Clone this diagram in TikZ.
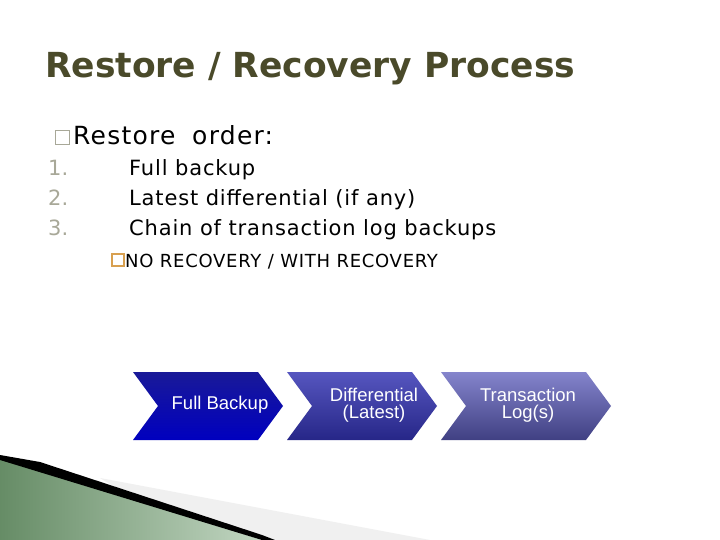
\documentclass[tikz,border=0pt]{standalone}
\usepackage{fontspec}
\setmainfont{DejaVu Sans}
\newfontfamily\arialf{Liberation Sans}
\usetikzlibrary{shadings}
\definecolor{titlec}{HTML}{4A4A2A}
\definecolor{numc}{HTML}{A8A898}
\definecolor{boxc}{HTML}{D8A050}
\begin{document}
\begin{tikzpicture}[x=1pt,y=-1pt,
  ctext/.style={text=white,font=\arialf\fontsize{18.5}{17}\selectfont,align=center},
  item/.style={anchor=base west,font=\fontsize{21}{21}\selectfont\addfontfeature{LetterSpace=4},inner sep=0},
  num/.style={anchor=base west,text=numc,font=\fontsize{21}{21}\selectfont,inner sep=0}]
\useasboundingbox[fill=white] (0,0) rectangle (720,540);
% title
\node[anchor=base west,inner sep=0,text=titlec] (title) at (45,78) {\bfseries\fontsize{34.5}{34.5}\selectfont Restore / Recovery Process};
% bullets
\node[draw=numc,minimum size=14pt,inner sep=0] (b1) at (62,137) {};
\node[anchor=base west,inner sep=0,font=\fontsize{25}{25}\selectfont\addfontfeature{LetterSpace=5}] (ro) at (73,145) {Restore\hspace{0.3em} order:};
\node[num] (n1) at (48,176) {1.};
\node[item] (i1) at (129,176) {Full backup};
\node[num] (n2) at (48,206) {2.};
\node[item] (i2) at (129,206) {Latest differential (if any)};
\node[num] (n3) at (48,236) {3.};
\node[item] (i3) at (129,236) {Chain of transaction log backups};
\node[draw=boxc,line width=1.2pt,minimum size=12pt,inner sep=0] (b2) at (118,260) {};
\node[anchor=base west,inner sep=0,font=\fontsize{18}{18}\selectfont\addfontfeature{LetterSpace=4}] (nr) at (125,267) {NO RECOVERY / WITH RECOVERY};
% chevrons
\shade[top color=blue!55!black!90,bottom color=blue!75!black] (133,372) -- (258,372) -- (283,406) -- (258,440) -- (133,440) -- (158,406) -- cycle;
\shade[top color=blue!55!white!75!black,bottom color=blue!45!black!85] (287,372) -- (412,372) -- (437,406) -- (412,440) -- (287,440) -- (312,406) -- cycle;
\shade[top color=blue!35!white!80!black,bottom color=blue!35!black!75!white] (441,372) -- (586,372) -- (611,406) -- (586,440) -- (441,440) -- (466,406) -- cycle;
\node[ctext] (c1) at (220,405) {Full Backup};
\node[ctext] (c2) at (374,405) {Differential\\(Latest)};
\node[ctext] (c3) at (528,405) {Transaction\\Log(s)};
% bottom-left decoration
\fill[gray!12] (100,478) -- (430,540) -- (200,540) -- cycle;
\shade[left color=green!25!black!60,right color=green!20!gray!40] (0,458) -- (262,540) -- (0,540) -- cycle;
\fill[black] (0,455) -- (40,462) -- (262,535) -- (275,540) -- (262,540) -- (0,460) -- cycle;
\end{tikzpicture}
\end{document}
